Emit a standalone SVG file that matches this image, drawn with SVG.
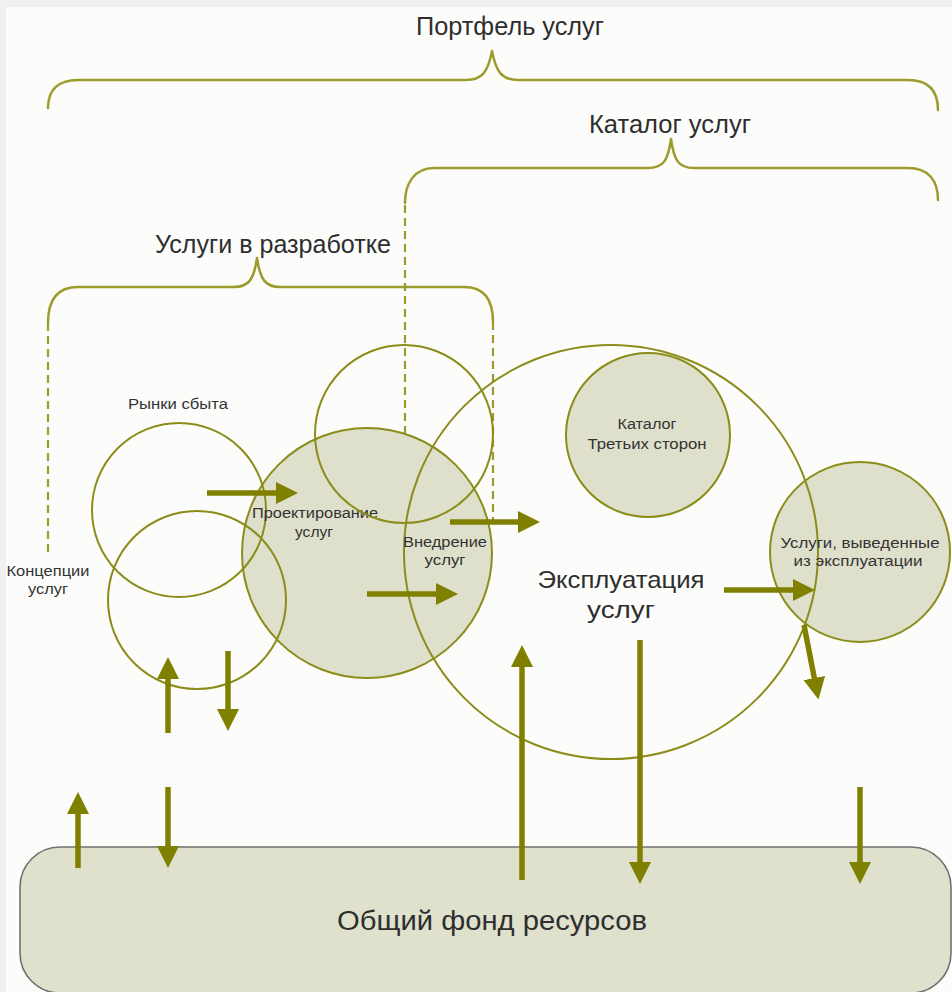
<svg xmlns="http://www.w3.org/2000/svg" width="952" height="992" viewBox="0 0 952 992">
<defs>
<marker id="ah" markerUnits="userSpaceOnUse" markerWidth="22" markerHeight="22" refX="1" refY="11" orient="auto">
<path d="M0,0 L22,11 L0,22 z" fill="#808000"/>
</marker>
<style>
.brace{fill:none;stroke:#9c9c2c;stroke-width:2.5;stroke-linecap:round;stroke-linejoin:round}
.dash{fill:none;stroke:#9c9c2c;stroke-width:2.2;stroke-dasharray:8 5}
.fillc{fill:#dfe0cb;stroke:none}
.ring{fill:none;stroke:#8c8c1a;stroke-width:2}
.arr{stroke:#808000;stroke-width:5.5;fill:none;marker-end:url(#ah)}
.big{font-family:"Liberation Sans",Arial,sans-serif;fill:#2e2e2e;text-anchor:middle}
.sm{font-family:"Liberation Sans",Arial,sans-serif;fill:#333;text-anchor:middle;font-size:14px}
</style>
</defs>
<rect x="0" y="0" width="952" height="992" fill="#f0f0f0"/>
<rect x="6" y="7" width="946" height="985" fill="#fcfdfb"/>

<g id="pool">
<rect x="20" y="847" width="931" height="146" rx="40" ry="40" fill="#dfe1cd" stroke="#707070" stroke-width="1.6"/>
<text class="big" x="492" y="930" font-size="27" textLength="310" lengthAdjust="spacingAndGlyphs">Общий фонд ресурсов</text>
</g>

<g id="braces">
<g id="portfolio">
<path class="brace" d="M48,108 C48,90 58,80 78,80 L466,80 C482,80 488,72 492,51 C496,72 502,80 518,80 L908,80 C928,80 938,90 938,110"/>
<text class="big" x="510" y="35" font-size="25" textLength="188" lengthAdjust="spacingAndGlyphs">Портфель услуг</text>
</g>
<g id="catalog">
<path class="brace" d="M405,203 C405,184 414,168 434,168 L648,168 C664,168 668,160 671,139 C674,160 678,168 694,168 L908,168 C928,168 938,180 938,200"/>
<text class="big" x="670" y="133" font-size="25" textLength="162" lengthAdjust="spacingAndGlyphs">Каталог услуг</text>
</g>
<g id="development">
<path class="brace" d="M48,323 C48,302 56,287 78,287 L234,287 C249,287 254,279 257,258 C260,279 265,287 280,287 L464,287 C484,287 493,300 493,322"/>
<text class="big" x="273" y="253" font-size="25" textLength="236" lengthAdjust="spacingAndGlyphs">Услуги в разработке</text>
</g>
<path class="dash" d="M48,323 L48,556"/>
<path class="dash" d="M405,205 L405,522"/>
<path class="dash" d="M493,322 L493,522"/>
</g>

<g id="fills">
<circle class="fillc" cx="367" cy="553" r="125"/>
<circle class="fillc" cx="648" cy="435" r="82"/>
<circle class="fillc" cx="860" cy="552" r="90"/>
</g>

<g id="markets">
<circle class="ring" cx="179" cy="510" r="87"/>
<text class="sm" x="178" y="409" textLength="100" lengthAdjust="spacingAndGlyphs">Рынки сбыта</text>
</g>
<g id="concepts">
<circle class="ring" cx="197" cy="600" r="89"/>
<text class="sm" x="48" y="576" textLength="83" lengthAdjust="spacingAndGlyphs">Концепции</text>
<text class="sm" x="48" y="594" textLength="40" lengthAdjust="spacingAndGlyphs">услуг</text>
</g>
<g id="design">
<circle class="ring" cx="367" cy="553" r="125"/>
<text class="sm" x="315" y="518" textLength="126" lengthAdjust="spacingAndGlyphs">Проектирование</text>
<text class="sm" x="314" y="537" textLength="38" lengthAdjust="spacingAndGlyphs">услуг</text>
</g>
<g id="upper-circle">
<circle class="ring" cx="404" cy="434" r="89"/>
</g>
<g id="operation">
<circle class="ring" cx="611" cy="552" r="207"/>
<text class="big" x="621" y="588" font-size="24" textLength="167" lengthAdjust="spacingAndGlyphs">Эксплуатация</text>
<text class="big" x="621" y="618" font-size="24" textLength="68" lengthAdjust="spacingAndGlyphs">услуг</text>
</g>
<g id="transition">
<text class="sm" x="445" y="547" textLength="84" lengthAdjust="spacingAndGlyphs">Внедрение</text>
<text class="sm" x="445" y="565" textLength="41" lengthAdjust="spacingAndGlyphs">услуг</text>
</g>
<g id="third-party">
<circle class="ring" cx="648" cy="435" r="82"/>
<text class="sm" x="647" y="429" textLength="59" lengthAdjust="spacingAndGlyphs">Каталог</text>
<text class="sm" x="647" y="449" textLength="119" lengthAdjust="spacingAndGlyphs">Третьих сторон</text>
</g>
<g id="retired">
<circle class="ring" cx="860" cy="552" r="90"/>
<text class="sm" x="860" y="548" textLength="159" lengthAdjust="spacingAndGlyphs">Услуги, выведенные</text>
<text class="sm" x="858" y="566" textLength="129" lengthAdjust="spacingAndGlyphs">из эксплуатации</text>
</g>

<g id="connectors">
<line class="arr" x1="207" y1="493" x2="277" y2="493"/>
<line class="arr" x1="367" y1="594" x2="437" y2="594"/>
<line class="arr" x1="450" y1="522" x2="519" y2="522"/>
<line class="arr" x1="724" y1="590" x2="794" y2="590"/>
<line class="arr" x1="804" y1="625" x2="814.5" y2="679"/>
<line class="arr" x1="168" y1="733" x2="168" y2="678"/>
<line class="arr" x1="228" y1="651" x2="228" y2="710"/>
<line class="arr" x1="522" y1="880" x2="522" y2="666"/>
<line class="arr" x1="640" y1="640" x2="640" y2="863"/>
<line class="arr" x1="78" y1="868" x2="78" y2="813"/>
<line class="arr" x1="168" y1="787" x2="168" y2="847"/>
<line class="arr" x1="860" y1="787" x2="860" y2="863"/>
</g>
</svg>
